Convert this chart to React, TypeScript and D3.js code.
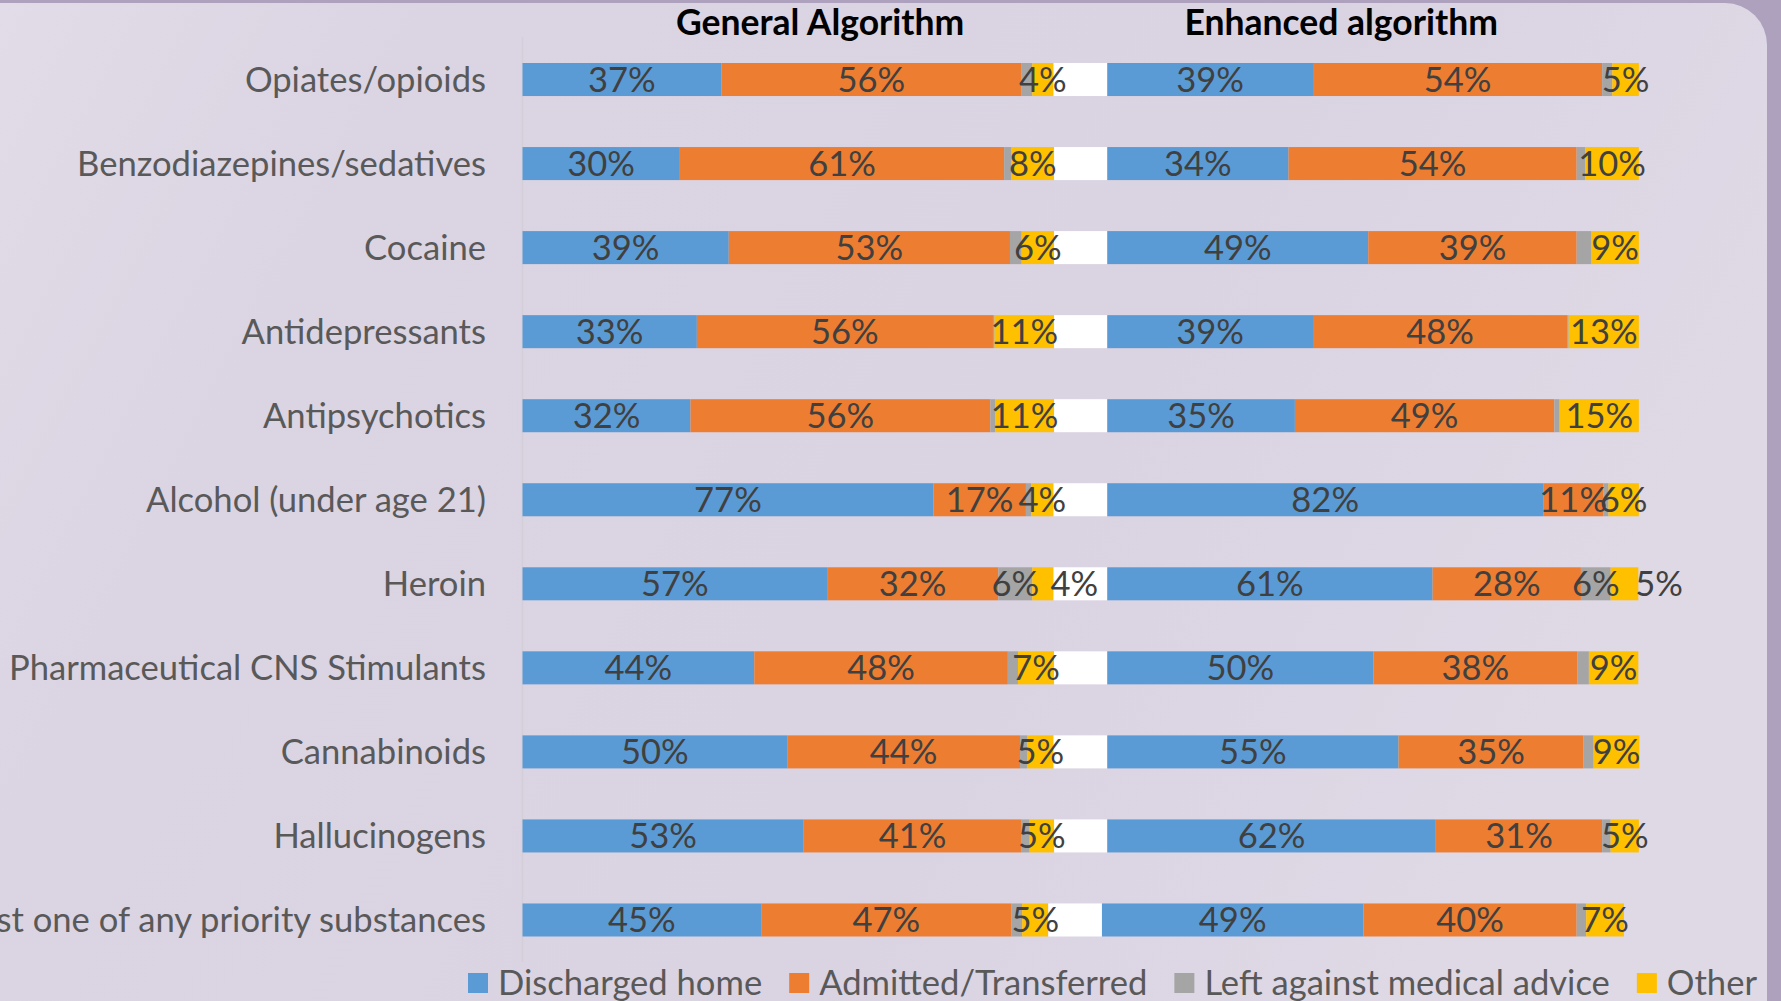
import React, { useEffect, useRef } from 'react';
import * as d3 from 'd3';

const categories = [
  'Opiates/opioids',
  'Benzodiazepines/sedatives',
  'Cocaine',
  'Antidepressants',
  'Antipsychotics',
  'Alcohol (under age 21)',
  'Heroin',
  'Pharmaceutical CNS Stimulants',
  'Cannabinoids',
  'Hallucinogens',
  'At least one of any priority substances',
];

const seriesNames = ['Discharged home', 'Admitted/Transferred', 'Left against medical advice', 'Other'];
const seriesColors = ['#5b9bd5', '#ed7d31', '#a5a5a5', '#ffc000'];
const panelTitles = ['General Algorithm', 'Enhanced algorithm'];

// General algorithm, % of patients
const generalDischarged = [37.4, 29.6, 38.8, 32.8, 31.6, 77.3, 57.3, 43.6, 49.8, 52.9, 44.9];
const generalAdmitted = [56.4, 61.0, 52.9, 55.7, 56.4, 17.4, 32.2, 47.7, 43.8, 41.0, 47.1];
const generalLeftAMA = [2.1, 1.4, 2.2, 0.3, 0.9, 1.0, 6.4, 1.9, 1.3, 1.5, 2.0];
const generalOther = [4.0, 8.0, 6.1, 11.2, 11.1, 4.2, 4.0, 6.8, 5.0, 4.6, 4.9];

// white spacer series between the two panels
const spacer = [10.1, 10, 10, 10, 10, 10.1, 10.1, 10, 10.1, 10, 10.1];

// Enhanced algorithm, % of patients
const enhancedDischarged = [38.7, 34.1, 49.1, 38.7, 35.3, 82.0, 61.2, 50.1, 54.8, 61.8, 49.2];
const enhancedAdmitted = [54.4, 54.2, 39.2, 47.8, 48.8, 11.3, 27.9, 38.3, 34.8, 31.3, 40.1];
const enhancedLeftAMA = [1.9, 1.6, 2.8, 0.3, 1.0, 1.0, 5.6, 2.2, 1.9, 1.6, 1.8];
const enhancedOther = [5.0, 10.1, 8.9, 13.2, 14.9, 5.7, 5.2, 9.3, 8.6, 5.3, 7.1];

// rows where the "left against medical advice" label is shown
const labelledLeftAMA = ['Heroin'];

const FONT = 'Lato, "Open Sans", sans-serif';

const Chart = () => {
  const ref = useRef<SVGSVGElement>(null);

  useEffect(() => {
    const svg = d3.select(ref.current);
    svg.selectAll('*').remove();

    const W = 1781;
    const H = 1001;

    // background + slide panel
    const defs = svg.append('defs');
    const grad = defs.append('linearGradient').attr('id', 'bg').attr('x1', 0).attr('x2', 1).attr('y1', 0).attr('y2', 0.3);
    grad.append('stop').attr('offset', '0%').attr('stop-color', '#e2dde8');
    grad.append('stop').attr('offset', '25%').attr('stop-color', '#dbd4e3');
    grad.append('stop').attr('offset', '70%').attr('stop-color', '#dad3e2');
    grad.append('stop').attr('offset', '100%').attr('stop-color', '#dfd9e6');

    svg.append('rect').attr('width', W).attr('height', H).attr('fill', '#ada1bd');
    svg.append('rect')
      .attr('x', -60).attr('y', 3)
      .attr('width', 1767 + 60).attr('height', H + 60)
      .attr('rx', 42)
      .attr('fill', 'url(#bg)');

    const keys = ['g0', 'g1', 'g2', 'g3', 'gap', 'e0', 'e1', 'e2', 'e3'];
    const colors = [...seriesColors, '#ffffff', ...seriesColors];
    const table = categories.map((c, i) => ({
      category: c,
      g0: generalDischarged[i], g1: generalAdmitted[i], g2: generalLeftAMA[i], g3: generalOther[i],
      gap: spacer[i],
      e0: enhancedDischarged[i], e1: enhancedAdmitted[i], e2: enhancedLeftAMA[i], e3: enhancedOther[i],
    }));
    const stacked = d3.stack<any>().keys(keys)(table);

    const x = d3.scaleLinear().domain([0, 210]).range([522.5, 522.5 + 2.1 * 531.6]);
    const y = d3.scaleBand()
      .domain(categories)
      .range([37.5, 962])
      .paddingInner(0.607)
      .paddingOuter(0.3035);

    // category axis line
    svg.append('line')
      .attr('x1', x(0)).attr('x2', x(0))
      .attr('y1', 37).attr('y2', 962)
      .attr('stroke', '#d3ced8').attr('stroke-width', 1.5);

    // bars
    stacked.forEach((layer, k) => {
      svg.append('g')
        .selectAll('rect')
        .data(layer)
        .enter()
        .append('rect')
          .attr('x', d => x(d[0]))
          .attr('y', d => y(d.data.category)!)
          .attr('width', d => Math.max(0, x(d[1]) - x(d[0])))
          .attr('height', y.bandwidth())
          .attr('fill', colors[k]);
    });

    // data labels
    stacked.forEach((layer, k) => {
      const key = keys[k];
      if (key === 'gap') return;
      const isGray = key.endsWith('2');
      const isOther = key.endsWith('3');
      layer.forEach(d => {
        const cat = d.data.category;
        const outside = labelledLeftAMA.includes(cat);
        if (isGray && !outside) return;
        const v = d[1] - d[0];
        const cy = y(cat)! + y.bandwidth() / 2;
        const t = svg.append('text')
          .attr('y', cy)
          .attr('dy', '0.36em')
          .style('font-family', FONT)
          .style('font-size', '34.5px')
          .attr('fill', '#404040')
          .text(`${Math.round(v)}%`);
        if (isOther && outside) {
          t.attr('x', x(d[1]) - 3).attr('text-anchor', 'start');
        } else {
          t.attr('x', (x(d[0]) + x(d[1])) / 2).attr('text-anchor', 'middle');
        }
      });
    });

    // category labels
    svg.append('g')
      .selectAll('text')
      .data(categories)
      .enter()
      .append('text')
        .attr('x', 486)
        .attr('y', d => y(d)! + y.bandwidth() / 2)
        .attr('dy', '0.36em')
        .attr('text-anchor', 'end')
        .style('font-family', FONT)
        .style('font-size', '34.6px')
        .attr('fill', '#595959')
        .text(d => d);

    // panel titles
    [56, 154].forEach((v, i) => {
      svg.append('text')
        .attr('x', x(v))
        .attr('y', 35)
        .attr('text-anchor', 'middle')
        .style('font-family', FONT)
        .style('font-size', '35.5px')
        .style('font-weight', 'bold')
        .attr('fill', '#000000')
        .text(panelTitles[i]);
    });

    // legend
    const legend = svg.append('g');
    let lx = 468;
    seriesNames.forEach((name, i) => {
      legend.append('rect')
        .attr('x', lx).attr('y', 973)
        .attr('width', 20).attr('height', 20)
        .attr('fill', seriesColors[i]);
      const t = legend.append('text')
        .attr('x', lx + 30)
        .attr('y', 983)
        .attr('dy', '0.36em')
        .style('font-family', FONT)
        .style('font-size', '34.6px')
        .attr('fill', '#595959')
        .text(name);
      const w = (t.node() as SVGTextElement).getComputedTextLength();
      lx += 30 + w + 27;
    });
  }, []);

  return <svg ref={ref} width={1781} height={1001} style={{ display: 'block' }} />;
};

export default function App() {
  return (
    <div style={{ position: 'absolute', left: 0, top: 0 }}>
      <Chart />
    </div>
  );
}
